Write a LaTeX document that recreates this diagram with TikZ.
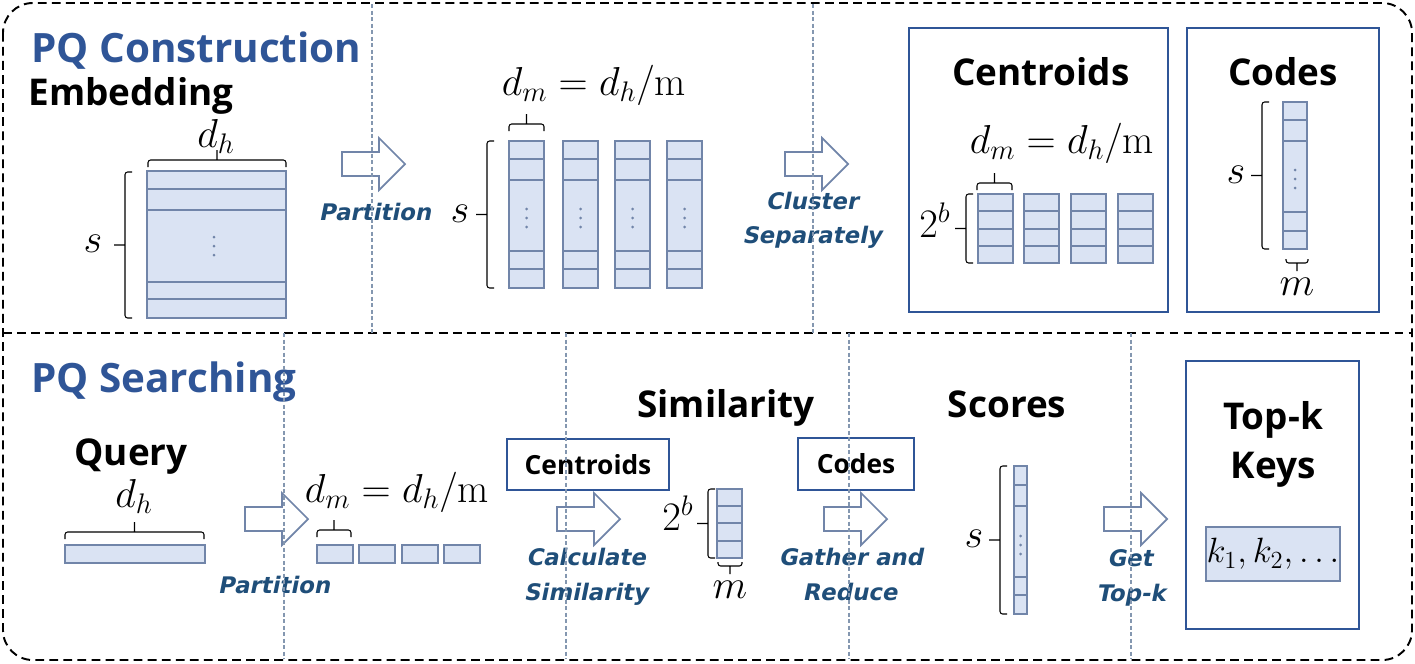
\RequirePackage{fix-cm}
\documentclass[tikz,border=0pt]{standalone}
\usepackage{fontspec}
\newfontfamily\headfont{Open Sans}
\newfontfamily\labelfont{DejaVu Sans}[FakeSlant=0.2]

\definecolor{titleblue}{HTML}{2F5597}
\definecolor{labelblue}{HTML}{1F4E79}
\definecolor{boxblue}{HTML}{2F5597}
\definecolor{cellfill}{HTML}{DAE3F3}
\definecolor{cellline}{HTML}{7185A9}
\definecolor{sepline}{HTML}{8497B0}

% cells of a vector: x1, x2, ytop, ybottom, inner lines
\newcommand{\cellcol}[5]{\draw[cell] (#1,#3) rectangle (#2,#4);
  \foreach \yy in {#5} {\draw[draw=cellline,line width=1pt] (#1,\yy) -- (#2,\yy);}}
\newcommand{\vdts}[2]{\foreach \dy in {-9,0,9} {\fill[cellline] ({#1},{#2+(\dy)}) circle (1.5);}}
% braces
\newcommand{\leftbr}[3]{\draw[brc] ({#1+7},#2) -- (#1,#2) -- (#1,#3) -- ({#1+7},#3) (#1,{(#2+#3)/2}) -- ++(-11,0);}
\newcommand{\topbr}[3]{\draw[brc] (#1,{#3+7}) -- (#1,#3) -- (#2,#3) -- (#2,{#3+7}) ({(#1+#2)/2},#3) -- ++(0,-10);}
\newcommand{\botbr}[3]{\draw[brc] (#1,{#3-4}) -- (#1,#3) -- (#2,#3) -- (#2,{#3-4}) ({(#1+#2)/2},#3) -- ++(0,8);}

\tikzset{
  titletxt/.style={font=\headfont\bfseries\fontsize{23}{26}\selectfont,text=titleblue,anchor=base west,inner sep=0},
  headtxt/.style={font=\headfont\bfseries\fontsize{21}{24}\selectfont,anchor=base,inner sep=0},
  steptxt/.style={font=\labelfont\bfseries\fontsize{13}{15}\selectfont,text=labelblue,anchor=base,inner sep=0},
  mathtxt/.style={font=\fontsize{23}{27}\selectfont,anchor=base,inner sep=0},
  smallbox/.style={draw=boxblue,line width=1.2pt,font=\headfont\bfseries\fontsize{15}{18}\selectfont,inner sep=0},
  keybox/.style={draw=cellline,fill=cellfill,line width=1pt,minimum width=2.68cm,minimum height=1.08cm,inner sep=0,font=\fontsize{20}{23}\selectfont},
  cell/.style={draw=cellline,fill=cellfill,line width=1pt},
  boxline/.style={draw=boxblue,line width=1.2pt},
  brc/.style={line width=0.6pt,rounded corners=1.5pt},
  divline/.style={sepline,line width=0.7pt,dash pattern=on 2.5pt off 1.2pt},
  bigdash/.style={line width=1.1pt,dash pattern=on 5pt off 3pt},
  arrowbody/.style={draw=cellline,fill=white,line width=1pt},
  fatarrow/.pic={\draw[arrowbody] (0,-12) -- (37,-12) -- (37,-26) -- (63,0) -- (37,26) -- (37,12) -- (0,12) -- cycle;}
}

\begin{document}
\begin{tikzpicture}[x=0.02cm,y=-0.02cm]
\useasboundingbox (0,0) rectangle (1415,663);
\draw[bigdash,rounded corners=17pt] (3,3) rectangle (1412,660);
\draw[bigdash] (3,333) -- (1412,333);

% PQ construction
\node[titletxt] (pqc) at (31,62) {PQ Construction};
\node[headtxt,anchor=base west] (emb) at (28,105) {Embedding};
\node[mathtxt] (dh1) at (216,147) {$d_h$};
\cellcol{147}{286}{171}{318}{189,210,282,299}
\vdts{214}{246}
\topbr{148}{286}{160}
\leftbr{125}{172}{318}
\node[mathtxt] (s1) at (93,252) {$s$};
\pic (a1) at (342,164) {fatarrow};
\node[steptxt] (part1) at (375,220) {Partition};

\node[mathtxt] (dm1) at (594,95) {$d_m = d_h/\mathrm{m}$};
\foreach \xa in {509,563,615,667} {\cellcol{\xa}{\xa+35}{141}{288}{159,180,251,269} \vdts{\xa+17.5}{218}}
\topbr{509}{544}{124}
\leftbr{487}{141}{288}
\node[mathtxt] (s2) at (460,222) {$s$};
\pic (a2) at (785,164) {fatarrow};
\node[steptxt] (clu1) at (812,209) {Cluster};
\node[steptxt] (clu2) at (812,243) {Separately};

\draw[boxline] (909,28) rectangle (1168,312);
\node[headtxt] (cen) at (1041,85) {Centroids};
\node[mathtxt] (dm2) at (1062,153) {$d_m = d_h/\mathrm{m}$};
\foreach \xa in {978,1024,1071,1118} {\cellcol{\xa}{\xa+35}{194}{263}{211,229,246}}
\topbr{977}{1012}{183}
\leftbr{966}{194}{263}
\node[mathtxt] (b1) at (935,237) {$2^b$};

\draw[boxline] (1187,28) rectangle (1379,312);
\node[headtxt] (cod) at (1283,85) {Codes};
\cellcol{1283}{1307}{102}{249}{120,141,212,231}
\vdts{1295}{179}
\leftbr{1262}{102}{249}
\node[mathtxt] (s3) at (1236,183) {$s$};
\botbr{1286}{1308}{263}
\node[mathtxt] (m1) at (1297,295) {$m$};

% PQ searching
\node[titletxt] (pqs) at (31,392) {PQ Searching};
\node[headtxt] (qry) at (131,465) {Query};
\node[mathtxt] (dh2) at (134,507) {$d_h$};
\topbr{65}{204}{532}
\draw[cell] (65,545) rectangle (205,563);
\pic (a3) at (245,519) {fatarrow};
\node[steptxt] (part2) at (274,593) {Partition};
\node[mathtxt] (dm3) at (397,502) {$d_m = d_h/\mathrm{m}$};
\topbr{317}{351}{530}
\foreach \xa in {317,359,402,444} {\draw[cell] (\xa,545) rectangle (\xa+36,563);}

\node[smallbox,minimum width=3.24cm,minimum height=1.02cm] (cen2) at (588,464.5) {Centroids};
\pic (a4) at (557,519) {fatarrow};
\node[steptxt] (cal1) at (586,565) {Calculate};
\node[steptxt] (cal2) at (586,600) {Similarity};
\node[headtxt] (sim) at (726,417) {Similarity};
\cellcol{717}{742}{489}{558}{506,523,541}
\leftbr{708}{489}{558}
\node[mathtxt] (b2) at (678,530) {$2^b$};
\botbr{718}{742}{566}
\node[mathtxt] (m2) at (730,598) {$m$};

\node[smallbox,minimum width=2.32cm,minimum height=1.04cm] (cod2) at (856,464) {Codes};
\pic (a5) at (824,519) {fatarrow};
\node[steptxt] (gat1) at (851,565) {Gather and};
\node[steptxt] (gat2) at (850,600) {Reduce};
\node[headtxt] (sco) at (1007,417) {Scores};
\cellcol{1014}{1027}{466}{614}{485,506,577,595}
\vdts{1020.5}{545}
\leftbr{1000}{466}{614}
\node[mathtxt] (s4) at (974,547) {$s$};

\pic (a6) at (1104,519) {fatarrow};
\node[steptxt] (get1) at (1130,566) {Get};
\node[steptxt] (get2) at (1131,601) {Top-k};
\draw[boxline] (1186,361) rectangle (1359,629);
\node[headtxt] (topk) at (1273,429) {Top-k};
\node[headtxt] (keys) at (1273,478) {Keys};
\node[keybox] (kv) at (1273,554) {$k_1, k_2, \ldots$};

% separators
\foreach \xs in {372,813} {\draw[divline] (\xs,4) -- (\xs,333);}
\foreach \xs in {284,566,849,1131} {\draw[divline] (\xs,333) -- (\xs,659);}
\end{tikzpicture}
\end{document}
